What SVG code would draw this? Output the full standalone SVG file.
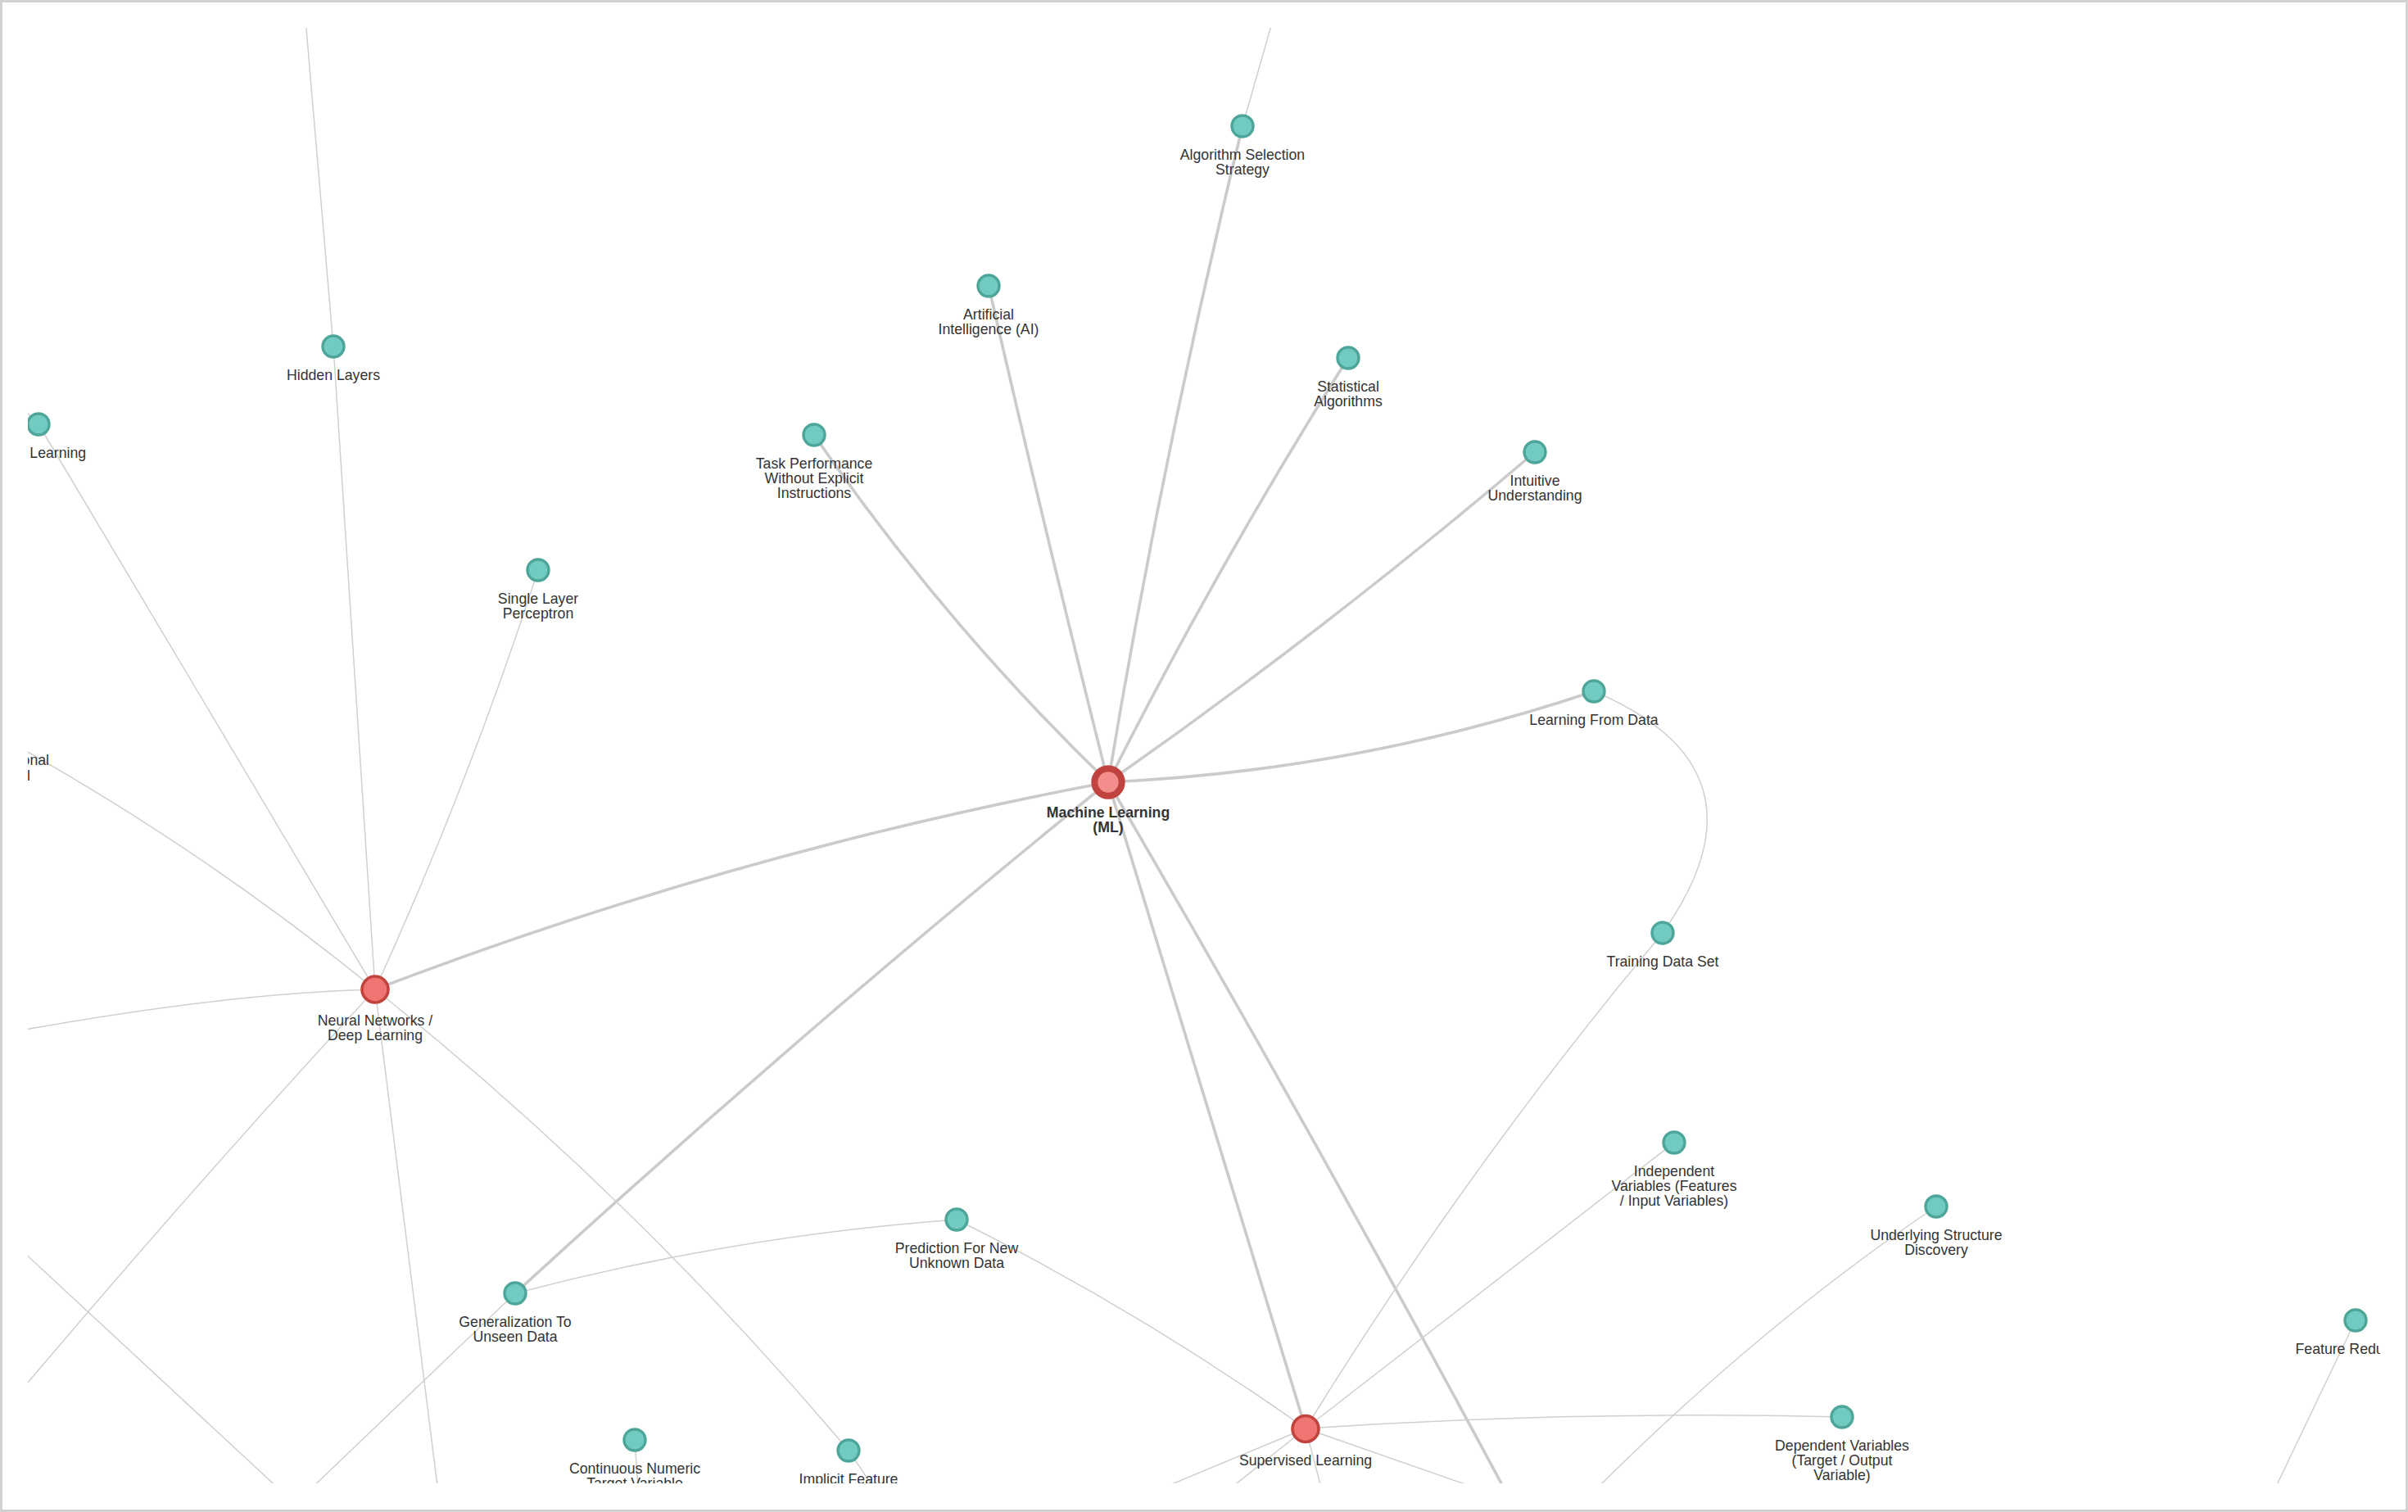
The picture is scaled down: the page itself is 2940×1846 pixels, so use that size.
<svg xmlns="http://www.w3.org/2000/svg" width="2940" height="1846" viewBox="0 0 2940 1846">
<defs>
<clipPath id="view"><rect x="34" y="34" width="2872" height="1777"/></clipPath>
<style>
.e{fill:none;stroke:#d0d0d0;stroke-width:1.5}
.em{fill:none;stroke:#cbcbcb;stroke-width:3.6}
.t{fill:#72cbc1;stroke:#4ea59a;stroke-width:3.4}
.r{fill:#ef7572;stroke:#c2423e;stroke-width:3.6}
.ml{fill:#f28f8c;stroke:#c0433f;stroke-width:8}
text{font-family:"Liberation Sans",Arial,Helvetica,sans-serif;font-size:17.7px;fill:#333;text-anchor:middle}
.b{font-weight:bold}
</style>
</defs>
<rect x="1.5" y="1.5" width="2937" height="1843" fill="#ffffff" stroke="#d2d2d2" stroke-width="3"/>
<g clip-path="url(#view)">
<g id="connectors">
<path class="em" d="M1353,955 Q1420,551 1517,154"/>
<path class="em" d="M1353,955 Q1276,650 1207,349"/>
<path class="em" d="M1353,955 Q1152,761 994,531"/>
<path class="em" d="M1353,955 Q1487,689 1646,437"/>
<path class="em" d="M1353,955 Q1623,766 1874,552"/>
<path class="em" d="M1353,955 Q1657,941 1946,844"/>
<path class="em" d="M1353,955 Q894,1041 458,1208"/>
<path class="em" d="M1353,955 Q981,1256 629,1579"/>
<path class="em" d="M1353,955 L1594,1744"/>
<path class="em" d="M1353,955 Q1601,1379 1833,1811 L1879,1897"/>
<path class="e" d="M1517,154 L1561,0"/>
<path class="e" d="M407,423 L371,0"/>
<path class="e" d="M407,423 L458,1208"/>
<path class="e" d="M47,518 L458,1208"/>
<path class="e" d="M47,518 L8,478"/>
<path class="e" d="M-11,893 Q238,1029 458,1208"/>
<path class="e" d="M657,696 Q572,958 458,1208"/>
<path class="e" d="M458,1208 Q250,1213 -60,1274"/>
<path class="e" d="M458,1208 Q241,1443 34,1688 L0,1728"/>
<path class="e" d="M0,1502 L371,1846"/>
<path class="e" d="M629,1579 L350,1846"/>
<path class="e" d="M458,1208 L538,1846"/>
<path class="e" d="M458,1208 Q775,1461 1036,1771"/>
<path class="e" d="M629,1579 Q894,1509 1168,1489"/>
<path class="e" d="M1168,1489 Q1391,1600 1594,1744"/>
<path class="e" d="M1946,844 Q2171,939 2030,1139"/>
<path class="e" d="M2030,1139 Q1790,1426 1594,1744"/>
<path class="e" d="M2044,1395 L1594,1744"/>
<path class="e" d="M2364,1473 Q2155,1614 1956,1811 L1921,1846"/>
<path class="e" d="M2876,1612 L2764,1846"/>
<path class="e" d="M1594,1744 Q1921,1722 2249,1730"/>
<path class="e" d="M1594,1744 L1349,1846"/>
<path class="e" d="M1594,1744 L1466,1846"/>
<path class="e" d="M1594,1744 L1621,1846"/>
<path class="e" d="M1594,1744 L1886,1846"/>
<path class="e" d="M775,1758 L781,1846"/>
<path class="e" d="M1036,1771 L1087,1846"/>
</g>
<g id="n-ml"><circle class="ml" cx="1353" cy="955" r="16.7"/><text class="b" x="1353" y="998">Machine Learning</text><text class="b" x="1353" y="1015.5">(ML)</text></g>
<g id="n-nn"><circle class="r" cx="458" cy="1208" r="16"/><text x="458" y="1252">Neural Networks /</text><text x="458" y="1270">Deep Learning</text></g>
<g id="n-sl"><circle class="r" cx="1594" cy="1744.5" r="16"/><text x="1594" y="1789">Supervised Learning</text></g>
<g id="n-algo"><circle class="t" cx="1517" cy="154" r="13"/><text x="1517" y="195">Algorithm Selection</text><text x="1517" y="213">Strategy</text></g>
<g id="n-ai"><circle class="t" cx="1207" cy="349" r="13"/><text x="1207" y="390">Artificial</text><text x="1207" y="408">Intelligence (AI)</text></g>
<g id="n-stat"><circle class="t" cx="1646" cy="437" r="13"/><text x="1646" y="478">Statistical</text><text x="1646" y="496">Algorithms</text></g>
<g id="n-intu"><circle class="t" cx="1874" cy="552" r="13"/><text x="1874" y="593">Intuitive</text><text x="1874" y="611">Understanding</text></g>
<g id="n-task"><circle class="t" cx="994" cy="531" r="13"/><text x="994" y="572">Task Performance</text><text x="994" y="590">Without Explicit</text><text x="994" y="608">Instructions</text></g>
<g id="n-hidden"><circle class="t" cx="407" cy="423" r="13"/><text x="407" y="464">Hidden Layers</text></g>
<g id="n-learning"><circle class="t" cx="47" cy="518" r="13"/><text x="36.3" y="559" style="text-anchor:start">Learning</text></g>
<g id="n-onal"><text x="60" y="934" style="text-anchor:end">onal</text><text x="33" y="953" style="text-anchor:start">l</text></g>
<g id="n-slp"><circle class="t" cx="657" cy="696" r="13"/><text x="657" y="737">Single Layer</text><text x="657" y="755">Perceptron</text></g>
<g id="n-lfd"><circle class="t" cx="1946" cy="844" r="13"/><text x="1946" y="885">Learning From Data</text></g>
<g id="n-tds"><circle class="t" cx="2030" cy="1139" r="13"/><text x="2030" y="1180">Training Data Set</text></g>
<g id="n-gen"><circle class="t" cx="629" cy="1579" r="13"/><text x="629" y="1620">Generalization To</text><text x="629" y="1638">Unseen Data</text></g>
<g id="n-pred"><circle class="t" cx="1168" cy="1489" r="13"/><text x="1168" y="1530">Prediction For New</text><text x="1168" y="1548">Unknown Data</text></g>
<g id="n-cont"><circle class="t" cx="775" cy="1758" r="13"/><text x="775" y="1798.5">Continuous Numeric</text><text x="775" y="1816.5">Target Variable</text></g>
<g id="n-impl"><circle class="t" cx="1036" cy="1771" r="13"/><text x="1036" y="1812">Implicit Feature</text></g>
<g id="n-indep"><circle class="t" cx="2044" cy="1395" r="13"/><text x="2044" y="1436">Independent</text><text x="2044" y="1454">Variables (Features</text><text x="2044" y="1472">/ Input Variables)</text></g>
<g id="n-usd"><circle class="t" cx="2364" cy="1473" r="13"/><text x="2364" y="1514">Underlying Structure</text><text x="2364" y="1532">Discovery</text></g>
<g id="n-fr"><circle class="t" cx="2876" cy="1612" r="13"/><text x="2802.5" y="1653" style="text-anchor:start">Feature Redu</text></g>
<g id="n-dep"><circle class="t" cx="2249" cy="1730" r="13"/><text x="2249" y="1771">Dependent Variables</text><text x="2249" y="1789">(Target / Output</text><text x="2249" y="1807">Variable)</text></g>
</g>
</svg>
